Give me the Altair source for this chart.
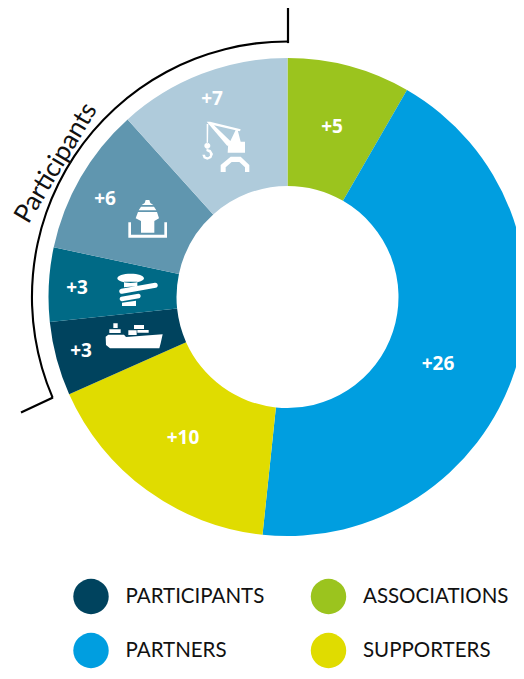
import math
import altair as alt
import pandas as pd

# ---- data ----
segments = ["Associations", "Partners", "Supporters", "P-cargo", "P-bollard", "P-ship", "P-crane"]
values = [5, 26, 10, 3, 3, 6, 7]
labels = ["+5", "+26", "+10", "+3", "+3", "+6", "+7"]
colors = ["#9bc41e", "#009ee0", "#e0dc00", "#00435e", "#006a86", "#6096af", "#afcbdb"]
legend_names = ["PARTICIPANTS", "ASSOCIATIONS", "PARTNERS", "SUPPORTERS"]
legend_colors = ["#00435e", "#9bc41e", "#009ee0", "#e0dc00"]

# ---- layout (page pixels) ----
W, H = 508, 663
M = 8
CX, CY = 287.5, 297
label_x = [332, 438, 183, 81, 77, 105, 212]
label_y = [126.5, 363.5, 437.5, 350.5, 287.5, 198.5, 98.5]
legend_x = [91, 328.5, 91, 328.5]
legend_y = [596.5, 596.5, 650.5, 650.5]

xs = alt.Scale(domain=[M, M + W], range=[0, W], nice=False, zero=False)
ys = alt.Scale(domain=[M, M + H], range=[0, H], nice=False, zero=False)
X = lambda f: alt.X(f, type="quantitative", scale=xs, axis=None)
Y = lambda f: alt.Y(f, type="quantitative", scale=ys, axis=None)

donut_df = pd.DataFrame({"segment": segments, "value": values, "idx": range(7)})
donut = alt.Chart(donut_df).mark_arc(innerRadius=111, outerRadius=239).encode(
    x=alt.value(CX - M), y=alt.value(CY - M),
    theta=alt.Theta("value:Q", stack=True, scale=alt.Scale(domain=[0, sum(values)], range=[0, 2 * math.pi])),
    color=alt.Color("segment:N", scale=alt.Scale(domain=segments, range=colors), legend=None),
    order=alt.Order("idx:Q"),
)

labels_df = pd.DataFrame({"t": labels, "x": label_x, "y": label_y})
label_text = alt.Chart(labels_df).mark_text(
    font="Open Sans", fontWeight="bold", fontSize=19, color="white"
).encode(x=X("x"), y=Y("y"), text="t:N")

# bracket
arc_start = math.radians(246.8)
bracket = alt.Chart(pd.DataFrame({"a": [0]})).mark_arc(
    innerRadius=254.5, outerRadius=256.6, theta=arc_start, theta2=2 * math.pi, color="black"
).encode(x=alt.value(CX - M), y=alt.value(CY - M))
ticks_df = pd.DataFrame({"x": [288, 52], "x2": [288, 22], "y": [42, 398], "y2": [9, 412]})
ticks = alt.Chart(ticks_df).mark_rule(color="black", strokeWidth=2.2, strokeCap="square").encode(
    x=X("x"), x2="x2:Q", y=Y("y"), y2="y2:Q"
)
part_df = pd.DataFrame({"t": ["Participants"], "x": [56], "y": [163]})
part = alt.Chart(part_df).mark_text(
    font="Lato", fontSize=26, angle=301, color="#111111"
).encode(x=X("x"), y=Y("y"), text="t:N")

# legend
leg_df = pd.DataFrame({"t": legend_names, "c": legend_colors, "x": legend_x, "y": legend_y})
leg_dots = alt.Chart(leg_df).mark_point(filled=True, opacity=1, size=1256, shape="circle").encode(
    x=X("x"), y=Y("y"), color=alt.Color("c:N", scale=None)
)
leg_df["tx"] = [v + 34.5 for v in legend_x]
leg_txt = alt.Chart(leg_df).mark_text(
    font="Lato", fontSize=20.5, align="left", color="#111111"
).encode(x=X("tx"), y=Y("y"), text="t:N")


# ---- icons: outlines, expressed in px around an anchor ----
def poly(pts, ox, oy, ax, ay):
    return "M" + "L".join(f"{ox + p[0] / 3 - ax:.2f},{oy + p[1] / 3 - ay:.2f}" for p in pts) + "Z"


def capsule(x1, y1, x2, y2, w, ox, oy, ax, ay):
    x1, y1, x2, y2 = ox + x1 / 3 - ax, oy + y1 / 3 - ay, ox + x2 / 3 - ax, oy + y2 / 3 - ay
    r = w / 6
    d = math.hypot(x2 - x1, y2 - y1)
    nx, ny = -(y2 - y1) / d * r, (x2 - x1) / d * r
    return (f"M{x1 + nx:.2f},{y1 + ny:.2f}L{x2 + nx:.2f},{y2 + ny:.2f}"
            f"A{r:.2f},{r:.2f} 0 0 0 {x2 - nx:.2f},{y2 - ny:.2f}"
            f"L{x1 - nx:.2f},{y1 - ny:.2f}A{r:.2f},{r:.2f} 0 0 0 {x1 + nx:.2f},{y1 + ny:.2f}Z")


def ellipse(cx, cy, rx, ry, ox, oy, ax, ay):
    cx, cy, rx, ry = ox + cx / 3 - ax, oy + cy / 3 - ay, rx / 3, ry / 3
    return (f"M{cx - rx:.2f},{cy:.2f}A{rx:.2f},{ry:.2f} 0 1 0 {cx + rx:.2f},{cy:.2f}"
            f"A{rx:.2f},{ry:.2f} 0 1 0 {cx - rx:.2f},{cy:.2f}Z")


crane_a = (225, 145)
c = (190, 110) + crane_a
crane_path = "".join([
    poly([(50, 35), (60, 35), (152, 58), (150, 64), (72, 46), (124, 96), (112, 108)], *c),
    poly([(115, 95), (120, 95), (137, 60), (143, 60), (152, 95), (165, 95), (165, 128), (113, 128)], *c),
    poly([(50, 42), (55, 42), (54, 100), (50, 100)], *c),
    ellipse(52, 107, 9, 9, *c),
    poly([(50, 116), (62, 120), (69, 132), (64, 144), (52, 149), (41, 145), (37, 134), (45, 134),
          (47, 140), (54, 142), (60, 137), (59, 128), (49, 123)], *c),
    poly([(92, 186), (92, 165), (122, 140), (152, 140), (178, 165), (178, 186), (165, 186), (165, 172),
          (148, 156), (125, 156), (107, 172), (107, 186)], *c),
])

ship_a = (147, 220)
s = (95, 195) + ship_a
ship_path = "".join([
    poly([(100, 82), (108, 82), (108, 119), (208, 119), (208, 82), (216, 82), (216, 128), (100, 128)], *s),
    poly([(152, 15), (163, 15), (166, 24), (175, 30), (140, 30), (149, 24)], *s),
    poly([(138, 35), (177, 35), (184, 46), (131, 46)], *s),
    poly([(129, 51), (186, 51), (192, 70), (178, 78), (178, 113), (138, 113), (138, 78), (122, 70)], *s),
])

boll_a = (130, 290)
b = (0, 240) + boll_a
boll_path = "".join([
    ellipse(392, 115, 40, 14, *b),
    poly([(372, 125), (412, 125), (412, 138), (372, 142)], *b),
    capsule(365, 154, 466, 136, 15, *b),
    capsule(365, 177, 416, 168, 13, *b),
    poly([(366, 188), (408, 182), (408, 198), (366, 198)], *b),
])

cargo_a = (135, 335)
g = (0, 240) + cargo_a
cargo_path = "".join([
    poly([(317, 290), (325, 284), (372, 284), (378, 291), (488, 283), (482, 310), (478, 325), (330, 325), (318, 315)], *g),
    poly([(328, 268), (362, 268), (362, 279), (328, 279)], *g),
    poly([(340, 250), (353, 250), (353, 264), (340, 264)], *g),
    poly([(402, 255), (432, 255), (432, 267), (402, 267)], *g),
    poly([(385, 271), (410, 271), (410, 285), (385, 285)], *g),
    poly([(412, 270), (446, 270), (446, 278), (412, 278)], *g),
])


def icon(path, anchor):
    df = pd.DataFrame({"x": [anchor[0]], "y": [anchor[1]]})
    return alt.Chart(df).mark_point(shape=path, size=4, filled=True, color="white", opacity=1, strokeWidth=0).encode(
        x=X("x"), y=Y("y")
    )


chart = alt.layer(
    donut, bracket, ticks, label_text,
    icon(crane_path, crane_a), icon(ship_path, ship_a), icon(boll_path, boll_a), icon(cargo_path, cargo_a),
    part, leg_dots, leg_txt,
).properties(width=W, height=H, padding=0, autosize=alt.AutoSizeParams(type="none")).configure_view(stroke=None)

chart.save("out.html", embed_options={"renderer": "svg", "actions": False})
